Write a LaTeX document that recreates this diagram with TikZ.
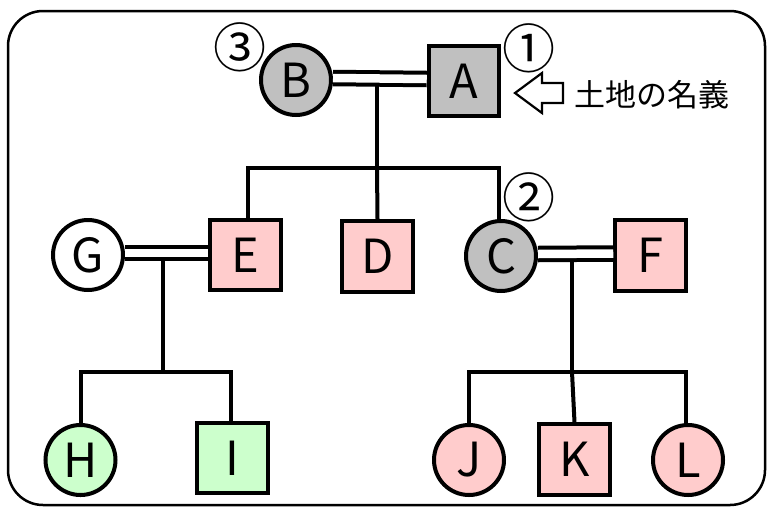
\documentclass[tikz,border=0pt]{standalone}
\usepackage{fontspec}
\setmainfont{Noto Sans CJK JP}
\definecolor{fgrayc}{HTML}{C0C0C0}
\definecolor{fpinkc}{HTML}{FFCCCC}
\definecolor{fgreenc}{HTML}{CCFFCC}
\begin{document}
\begin{tikzpicture}[x=1pt,y=-1pt,
  person/.style={draw=black, line width=4pt, inner sep=0pt, font=\fontsize{47}{47}\selectfont},
  male/.style={person, rectangle, minimum size=70.5pt},
  female/.style={person, circle, minimum size=70pt},
  fgray/.style={fill=fgrayc},
  fpink/.style={fill=fpinkc},
  fgreen/.style={fill=fgreenc},
  fwhite/.style={fill=white},
  marriage/.style={draw=black, line width=4pt, double=white, double distance=8.5pt},
  kin/.style={draw=black, line width=4pt},
  num/.style={inner sep=0pt, font=\fontsize{53}{53}\selectfont},
  frame/.style={draw=black, line width=2.5pt, rounded corners=35pt},
  hollowarrow/.style={draw=black, line width=2.2pt, fill=white, line join=miter},
  note/.style={inner sep=0pt, anchor=west, font=\fontsize{31}{31}\selectfont}
]
\useasboundingbox (0,0) rectangle (770,509);
\draw[frame] (8,11) rectangle (765,505);

% people
\node[female, fgray] (B) at (296,80) {B};
\node[male, fgray] (A) at (464,81) {A};
\node[male, fpink] (E) at (245.5,255) {E};
\node[male, fpink] (D) at (377.5,256.5) {D};
\node[female, fgray] (C) at (501,256) {C};
\node[male, fpink] (F) at (650.5,255.5) {F};
\node[female, fwhite] (G) at (88,255) {G};
\node[female, fgreen] (H) at (80.5,460) {H};
\node[male, fgreen] (I) at (232.5,458) {I};
\node[female, fpink] (J) at (469,460) {J};
\node[male, fpink] (K) at (574.5,459.5) {K};
\node[female, fpink] (L) at (688,460) {L};

% numbers
\node[num] (n3) at (240,47) {③};
\node[num] (n1) at (529,48) {①};
\node[num] (n2) at (529,197) {②};

% marriages
\draw[marriage] ([yshift=2pt]B.east) -- ([yshift=2pt]A.west);
\draw[marriage] ([yshift=2pt]G.east) -- ([yshift=2pt]E.west);
\draw[marriage] ([yshift=2pt]C.east) -- ([yshift=2pt]F.west);

% descent lines
\coordinate (ab) at (377,85);
\coordinate (abk) at (377,168);
\draw[kin] (ab) -- (abk);
\draw[kin] ([xshift=2.5pt]E.north) |- (abk) -| ([xshift=-2pt]C.north);
\draw[kin] (abk) -- (D.north);

\coordinate (ge) at (163,259);
\coordinate (gek) at (163,372);
\draw[kin] (ge) -- (gek);
\draw[kin] (H.north) |- (gek) -| ([xshift=-1.5pt]I.north);

\coordinate (cf) at (572,259);
\coordinate (cfk) at (572,372);
\draw[kin] (cf) -- (cfk);
\draw[kin] (J.north) |- (cfk) -| ([xshift=-2pt]L.north);
\draw[kin] (cfk) -- (K.north);

% hollow arrow and note
\draw[hollowarrow] (515,93) -- (542,73) -- (542,83) -- (563,83) -- (563,103) -- (542,103) -- (542,113) -- cycle;
\node[note] (title) at (574,95) {土地の名義};
\end{tikzpicture}
\end{document}
